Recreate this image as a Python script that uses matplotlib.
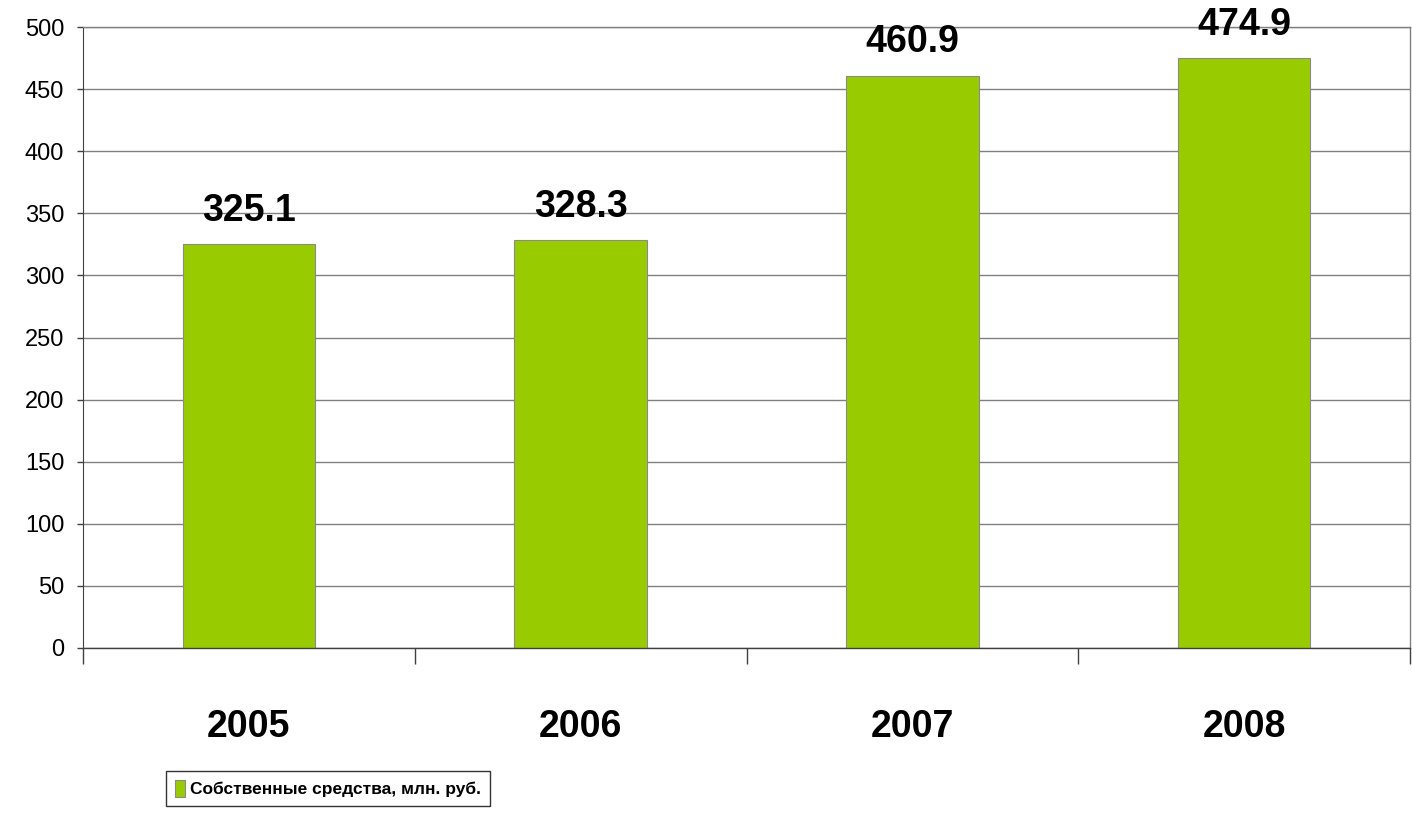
import matplotlib
matplotlib.use("Agg")
import matplotlib.pyplot as plt
from matplotlib.ticker import FixedLocator

years = ["2005", "2006", "2007", "2008"]
values = [325.1, 328.3, 460.9, 474.9]
series_name = "Собственные средства, млн. руб."
yticks = [0, 50, 100, 150, 200, 250, 300, 350, 400, 450, 500]

GREEN = "#99CC00"
arial = ["Liberation Sans", "DejaVu Sans"]

fig = plt.figure(figsize=(14.12, 8.14), dpi=100)
ax = fig.add_axes([83/1412, 1-648/814, (1410-83)/1412, (648-27)/814])

x = list(range(len(years)))
bars = ax.bar(x, values, width=0.4, color=GREEN, edgecolor="#8a8a8a", linewidth=0.8,
              label=series_name, zorder=3)

for xi, v in zip(x, values):
    ax.annotate(f"{v:.1f}", xy=(xi, v), xytext=(0, 11), textcoords="offset points",
                ha="center", va="bottom", fontsize=27, fontweight="bold",
                family=arial, zorder=4, annotation_clip=False)

ax.set_xlim(-0.5, len(years) - 0.5)
ax.set_ylim(0, 500)
ax.yaxis.set_major_locator(FixedLocator(yticks))
ax.set_yticklabels([str(t) for t in yticks], family=arial, fontsize=17)
ax.tick_params(axis="y", direction="out", length=4.5, width=1, color="#404040", pad=9)

ax.set_xticks(x)
ax.set_xticklabels(years, family=arial, fontsize=27, fontweight="bold")
ax.tick_params(axis="x", which="major", length=0, pad=44)
ax.xaxis.set_minor_locator(FixedLocator([i - 0.5 for i in range(len(years) + 1)]))
ax.tick_params(axis="x", which="minor", direction="out", length=11.5, width=1, color="#404040")

ax.grid(axis="y", color="#808080", linewidth=1, zorder=0)
for s in ["top", "right"]:
    ax.spines[s].set_color("#808080")
    ax.spines[s].set_linewidth(1)
ax.spines["left"].set_color("#404040")
ax.spines["bottom"].set_color("#404040")
ax.spines["bottom"].set_linewidth(1)
ax.spines["bottom"].set_zorder(5)

leg = fig.legend(handles=[bars], labels=[series_name], loc="upper left",
                 bbox_to_anchor=(166/1412, 1-771/814), frameon=True, fancybox=False,
                 edgecolor="black", handlelength=0.6, handleheight=1.2, handletextpad=0.3,
                 borderpad=0.5, borderaxespad=0,
                 prop={"family": arial, "size": 12.5, "weight": "bold"})
leg.get_frame().set_linewidth(1)

fig.savefig("out.png", dpi=100)
